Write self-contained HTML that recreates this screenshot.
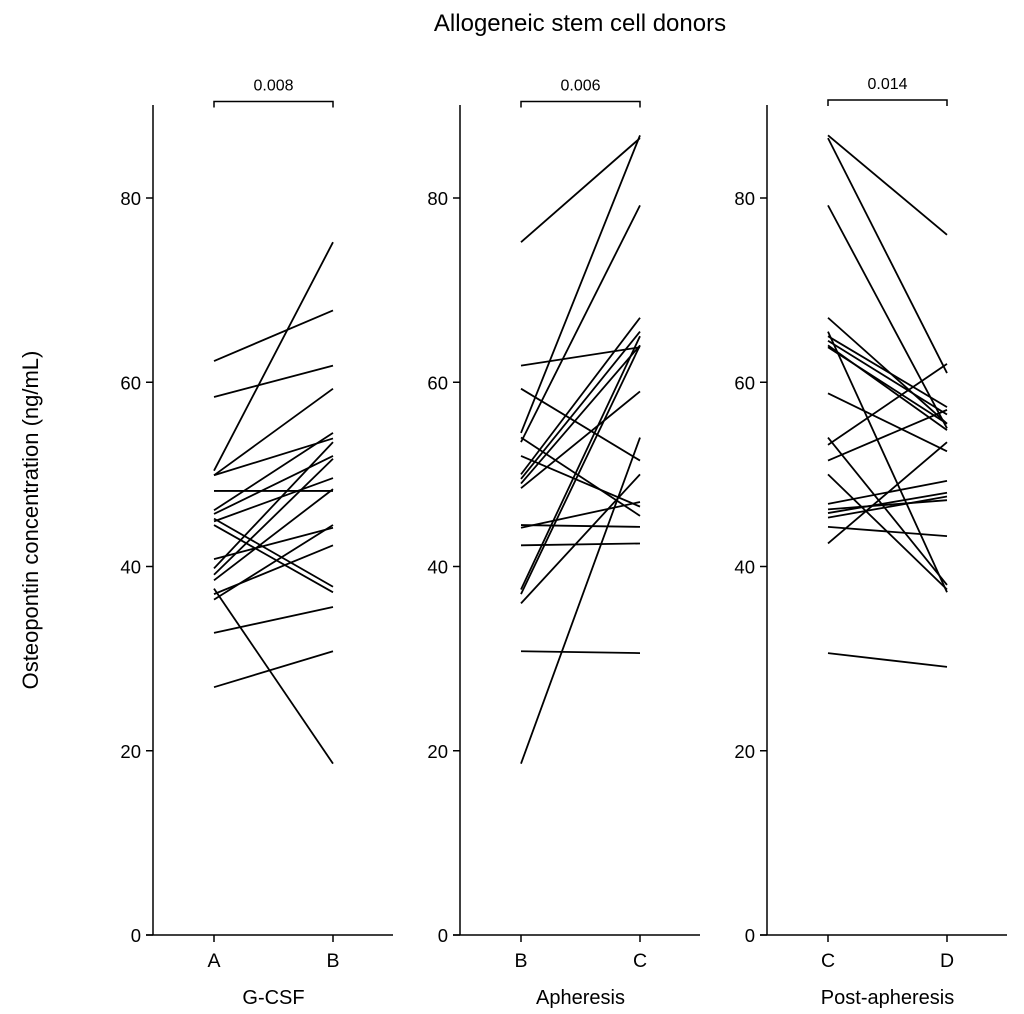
<!DOCTYPE html>
<html><head><meta charset="utf-8"><style>
html,body{margin:0;padding:0;background:#fff;}
svg{display:block;font-family:"Liberation Sans",Arial,sans-serif;}
</style></head><body>
<svg id="chart" width="1024" height="1014" viewBox="0 0 1024 1014">
<text x="580" y="31" font-size="24" text-anchor="middle">Allogeneic stem cell donors</text>
<text transform="translate(38,520) rotate(-90)" font-size="22" text-anchor="middle">Osteopontin concentration (ng/mL)</text>
<g id="plots"></g>
</svg>
<script>
const yTicks = [0, 20, 40, 60, 80];
const panelNames = ["G-CSF", "Apheresis", "Post-apheresis"];
const panelCats = [["A","B"],["B","C"],["C","D"]];
const pValues = ["0.008", "0.006", "0.014"];
const gcsfBefore = [62.3,58.4,50.4,49.9,49.9,48.2,46.1,45.7,44.9,44.5,45.2,40.8,39.8,39.1,38.5,37.6,37.0,36.4,32.8,26.9];
const gcsfAfter  = [67.8,61.8,75.2,59.3,53.9,48.2,54.5,52.0,49.6,37.2,37.8,44.2,53.5,51.7,48.4,18.6,42.3,44.5,35.6,30.8];
const aphBefore = [75.2,61.8,59.3,54.5,53.5,54.0,52.0,50.0,49.5,49.0,48.5,44.5,44.2,42.3,37.5,37.0,36.0,30.8,18.6];
const aphAfter  = [86.5,63.8,51.5,86.8,79.2,45.5,46.5,67.0,65.5,64.0,59.0,44.3,47.0,42.5,65.0,64.0,50.0,30.6,54.0];
const postBefore = [86.8,86.5,79.2,67.0,65.5,65.0,64.5,64.0,63.8,58.8,54.0,53.2,51.5,50.0,46.8,46.2,45.8,45.3,44.3,42.5,30.6];
const postAfter  = [76.0,61.0,55.0,55.5,37.2,57.3,56.5,54.8,55.5,52.5,38.0,62.0,57.0,37.5,49.3,47.2,48.0,47.6,43.3,53.5,29.1];
const series = [[gcsfBefore,gcsfAfter],[aphBefore,aphAfter],[postBefore,postAfter]];

const NS = "http://www.w3.org/2000/svg";
const g = document.getElementById('plots');
const yScale = v => 935 - v * 9.2125;
const axisX = [153, 460, 767];
function mk(tag, attrs, parent){const e=document.createElementNS(NS,tag);for(const k in attrs)e.setAttribute(k,attrs[k]);parent.appendChild(e);return e;}
for (let p = 0; p < 3; p++) {
  const ax = axisX[p];
  const xA = ax + 61, xB = ax + 180;
  const pg = mk('g', {}, g);
  
  
  const ya = mk('line', {x1:ax,y1:105,x2:ax,y2:935,stroke:'#000','stroke-width':1.5}, pg);
  
  
  const xa = mk('line', {x1:ax-7,y1:935,x2:ax+240,y2:935,stroke:'#000','stroke-width':1.5}, pg);
  
  
  yTicks.forEach(t => {
    const y = yScale(t);
    const tl = mk('line', {x1:ax-7,y1:y,x2:ax,y2:y,stroke:'#000','stroke-width':1.5}, pg);
    
    
    const tt = mk('text', {x:ax-12,y:y+7,'font-size':18.5,'text-anchor':'end'}, pg);
    tt.textContent = t;
    
    
  });
  [xA, xB].forEach((x, i) => {
    const tl = mk('line', {x1:x,y1:935,x2:x,y2:942,stroke:'#000','stroke-width':1.5}, pg);
    
    
    const tt = mk('text', {x:x,y:967,'font-size':19.5,'text-anchor':'middle'}, pg);
    tt.textContent = panelCats[p][i];
    
    
  });
  const gl = mk('text', {x:(xA+xB)/2,y:1004,'font-size':20,'text-anchor':'middle'}, pg);
  gl.textContent = panelNames[p];
  
  
  const by = p === 2 ? 100 : 101.5;
  const br = mk('path', {d:`M${xA},${by+6}V${by}H${xB}V${by+6}`,fill:'none',stroke:'#000','stroke-width':1.5}, pg);
  
  
  const pt = mk('text', {x:(xA+xB)/2,y:by-11,'font-size':16,'text-anchor':'middle'}, pg);
  pt.textContent = pValues[p];
  
  
  const [b, a] = series[p];
  for (let i = 0; i < b.length; i++) {
    const ln = mk('line', {x1:xA,y1:yScale(b[i]),x2:xB,y2:yScale(a[i]),stroke:'#000','stroke-width':1.8}, pg);
    
    
  }
}
</script>
</body></html>
